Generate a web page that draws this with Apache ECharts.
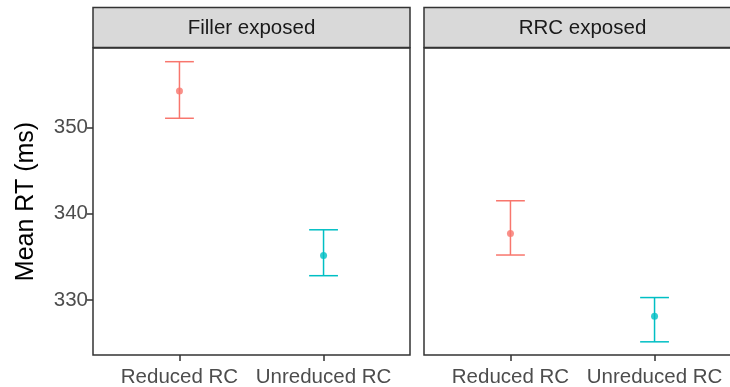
<!DOCTYPE html>
<html>
<head>
<meta charset="utf-8">
<script src="https://cdn.jsdelivr.net/npm/echarts@6/dist/echarts.min.js"></script>
<style>
  html, body { margin: 0; padding: 0; background: #ffffff; }
  #chart { width: 730px; height: 387px; }
</style>
</head>
<body>
<div id="chart"></div>
<script>
// Conditions on the x axis, one facet per exposure type
const categories = ['Reduced RC', 'Unreduced RC'];
const panels = ['Filler exposed', 'RRC exposed'];

// Mean RT (ms) with lower / upper error-bar limits, per facet
const fillerMean  = [354.26, 335.16];
const fillerLower = [351.09, 332.81];
const fillerUpper = [357.66, 338.14];

const rrcMean  = [337.71, 328.11];
const rrcLower = [335.21, 325.13];
const rrcUpper = [341.51, 330.27];

const yTicks = [330, 340, 350];
const yTitle = 'Mean RT (ms)';

const colors = ['#F8766D', '#00BFC4'];
const font = 'Liberation Sans, Arial, Helvetica, sans-serif';

// Panel layout
const panelTop = 48;
const panelBottom = 32;
const panelW = 317;
const panelLefts = [93, 424];
const stripTop = 7.5;
const stripH = 40;

const chart = echarts.init(document.getElementById('chart'), null, { renderer: 'canvas' });

const seriesSets = [
  { mean: fillerMean, lower: fillerLower, upper: fillerUpper },
  { mean: rrcMean, lower: rrcLower, upper: rrcUpper }
];

function errorBarItem(params, api) {
  const x = api.value(0);
  const lo = api.value(1);
  const hi = api.value(2);
  const ci = api.value(3);
  const half = 0.1;
  const pTop = api.coord([x, hi]);
  const pBot = api.coord([x, lo]);
  const capL = api.coord([x - half, hi]);
  const capR = api.coord([x + half, hi]);
  const botL = api.coord([x - half, lo]);
  const botR = api.coord([x + half, lo]);
  const style = { stroke: colors[ci], lineWidth: 1.5, fill: null };
  return {
    type: 'group',
    children: [
      { type: 'line', shape: { x1: pTop[0], y1: pTop[1], x2: pBot[0], y2: pBot[1] }, style },
      { type: 'line', shape: { x1: capL[0], y1: capL[1], x2: capR[0], y2: capR[1] }, style },
      { type: 'line', shape: { x1: botL[0], y1: botL[1], x2: botR[0], y2: botR[1] }, style }
    ]
  };
}

const grids = [];
const xAxes = [];
const yAxes = [];
const series = [];
const graphics = [];

panels.forEach((name, p) => {
  grids.push({
    left: panelLefts[p], top: panelTop, width: panelW, bottom: panelBottom,
    outerBoundsMode: 'none', containLabel: false,
    show: true, borderColor: '#333333', borderWidth: 1.5, backgroundColor: '#ffffff'
  });
  xAxes.push({
    type: 'value', gridIndex: p, min: 0.4, max: 2.6,
    axisLine: { show: false },
    splitLine: { show: false },
    axisTick: { show: true, customValues: [1, 2], length: 6, lineStyle: { color: '#333333', width: 1.5 } },
    axisLabel: {
      show: true, customValues: [1, 2], margin: 12,
      formatter: v => categories[Math.round(v) - 1] || '',
      color: '#4D4D4D', fontSize: 20.5, fontFamily: font
    }
  });
  yAxes.push({
    type: 'value', gridIndex: p, min: 323.6, max: 359.25,
    name: p === 0 ? yTitle : '',
    nameLocation: 'middle', nameGap: 54, nameRotate: 90,
    nameTextStyle: { color: '#000000', fontSize: 25, fontFamily: font },
    axisLine: { show: false },
    splitLine: { show: false },
    axisTick: { show: p === 0, customValues: yTicks, length: 6, lineStyle: { color: '#333333', width: 1.5 } },
    axisLabel: {
      show: p === 0, customValues: yTicks, margin: 5,
      color: '#4D4D4D', fontSize: 20.5, fontFamily: font
    }
  });

  const s = seriesSets[p];
  series.push({
    type: 'custom', xAxisIndex: p, yAxisIndex: p,
    renderItem: errorBarItem,
    encode: { x: 0, y: [1, 2] },
    data: categories.map((c, i) => [i + 1, s.lower[i], s.upper[i], i]),
    silent: true, z: 3
  });
  series.push({
    type: 'scatter', xAxisIndex: p, yAxisIndex: p,
    symbol: 'circle', symbolSize: 7,
    data: categories.map((c, i) => ({ value: [i + 1, s.mean[i]], itemStyle: { color: colors[i] } })),
    silent: true, z: 4
  });

  // facet strip
  graphics.push({
    type: 'rect',
    shape: { x: panelLefts[p], y: stripTop, width: panelW, height: stripH },
    style: { fill: '#D9D9D9', stroke: '#333333', lineWidth: 1.5 },
    z: 10
  });
  graphics.push({
    type: 'text',
    style: {
      x: panelLefts[p] + panelW / 2, y: stripTop + stripH / 2 + 1,
      text: name, textAlign: 'center', textVerticalAlign: 'middle',
      fill: '#1A1A1A', fontSize: 20.5, fontFamily: font
    },
    z: 11
  });
});

chart.setOption({
  animation: false,
  backgroundColor: '#ffffff',
  grid: grids,
  xAxis: xAxes,
  yAxis: yAxes,
  series: series,
  graphic: graphics
});
</script>
</body>
</html>
